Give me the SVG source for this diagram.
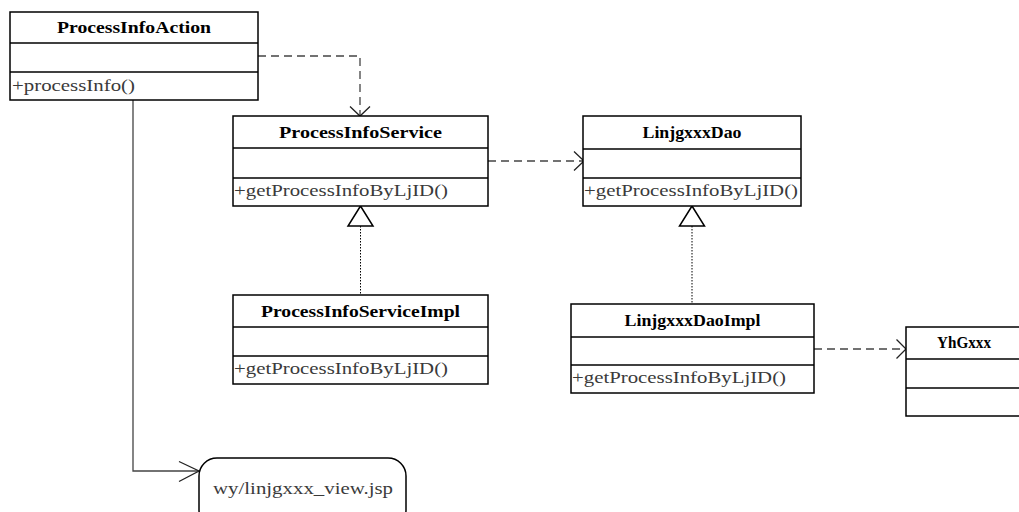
<svg xmlns="http://www.w3.org/2000/svg" width="1019" height="512" viewBox="0 0 1019 512">
<style>
.box{fill:#fff;stroke:#000;stroke-width:1.5}
.div{stroke:#000;stroke-width:1.5}
.title{font-family:"Liberation Serif",serif;font-weight:bold;font-size:17px;fill:#000;text-anchor:middle}
.meth{font-family:"Liberation Serif",serif;font-size:17px;fill:#3a3a3a}
.dash{fill:none;stroke:#444;stroke-width:1.3;stroke-dasharray:8,5}
.dot{fill:none;stroke:#000;stroke-width:1;stroke-dasharray:1.5,1.5}
.solid{fill:none;stroke:#444;stroke-width:1.3}
.head{fill:none;stroke:#222;stroke-width:1.3}
.tri{fill:#fff;stroke:#000;stroke-width:1.5}
</style>
<rect width="1019" height="512" fill="#fff"/>
<g id="connectors">
  <path class="dash" d="M258,56 H360 V115"/>
  <path class="head" d="M350,106.5 L360,116 L370,106.5"/>
  <path class="dash" d="M488,161 H583"/>
  <path class="head" d="M574,151.5 L584,161 L574,170.5"/>
  <path class="dash" d="M814,349 H905"/>
  <path class="head" d="M896.5,339.5 L906,349 L896.5,358.5"/>
  <path class="dot" d="M360.5,226 V295"/>
  <path class="tri" d="M360.5,206 L348,226 L373,226 Z"/>
  <path class="dot" d="M692,226 V304"/>
  <path class="tri" d="M692,206 L679.5,226 L704.5,226 Z"/>
  <path class="solid" d="M133,100 V471 H199"/>
  <path class="head" d="M179,461.5 L199,471 L179,481.5"/>
</g>
<g id="ProcessInfoAction">
  <rect class="box" x="10" y="12" width="248" height="88"/>
  <line class="div" x1="10" y1="43" x2="258" y2="43"/>
  <line class="div" x1="10" y1="72" x2="258" y2="72"/>
  <text class="title" x="134" y="33" textLength="154" lengthAdjust="spacingAndGlyphs">ProcessInfoAction</text>
  <text class="meth" x="12" y="91" textLength="123" lengthAdjust="spacingAndGlyphs">+processInfo()</text>
</g>
<g id="ProcessInfoService">
  <rect class="box" x="233" y="116" width="255" height="90"/>
  <line class="div" x1="233" y1="148" x2="488" y2="148"/>
  <line class="div" x1="233" y1="178" x2="488" y2="178"/>
  <text class="title" x="360.5" y="137.5" textLength="163" lengthAdjust="spacingAndGlyphs">ProcessInfoService</text>
  <text class="meth" x="234" y="196" textLength="214" lengthAdjust="spacingAndGlyphs">+getProcessInfoByLjID()</text>
</g>
<g id="LinjgxxxDao">
  <rect class="box" x="583" y="116" width="218" height="90"/>
  <line class="div" x1="583" y1="149" x2="801" y2="149"/>
  <line class="div" x1="583" y1="178" x2="801" y2="178"/>
  <text class="title" x="692" y="137.5" textLength="99" lengthAdjust="spacingAndGlyphs">LinjgxxxDao</text>
  <text class="meth" x="584" y="196" textLength="214" lengthAdjust="spacingAndGlyphs">+getProcessInfoByLjID()</text>
</g>
<g id="ProcessInfoServiceImpl">
  <rect class="box" x="233" y="295" width="255" height="89"/>
  <line class="div" x1="233" y1="327" x2="488" y2="327"/>
  <line class="div" x1="233" y1="356" x2="488" y2="356"/>
  <text class="title" x="360.5" y="316.5" textLength="199" lengthAdjust="spacingAndGlyphs">ProcessInfoServiceImpl</text>
  <text class="meth" x="234" y="374" textLength="214" lengthAdjust="spacingAndGlyphs">+getProcessInfoByLjID()</text>
</g>
<g id="LinjgxxxDaoImpl">
  <rect class="box" x="571" y="304" width="243" height="89"/>
  <line class="div" x1="571" y1="337" x2="814" y2="337"/>
  <line class="div" x1="571" y1="365" x2="814" y2="365"/>
  <text class="title" x="692.5" y="325.5" textLength="136" lengthAdjust="spacingAndGlyphs">LinjgxxxDaoImpl</text>
  <text class="meth" x="572" y="383" textLength="214" lengthAdjust="spacingAndGlyphs">+getProcessInfoByLjID()</text>
</g>
<g id="YhGxxx">
  <rect class="box" x="906" y="327" width="116" height="89"/>
  <line class="div" x1="906" y1="359" x2="1022" y2="359"/>
  <line class="div" x1="906" y1="388" x2="1022" y2="388"/>
  <text class="title" x="964" y="348" textLength="54" lengthAdjust="spacingAndGlyphs">YhGxxx</text>
</g>
<g id="wy_view">
  <rect class="box" x="199" y="458" width="207" height="70" rx="18" ry="18"/>
  <text class="meth" x="303" y="494" text-anchor="middle" textLength="180" lengthAdjust="spacingAndGlyphs">wy/linjgxxx_view.jsp</text>
</g>
</svg>
